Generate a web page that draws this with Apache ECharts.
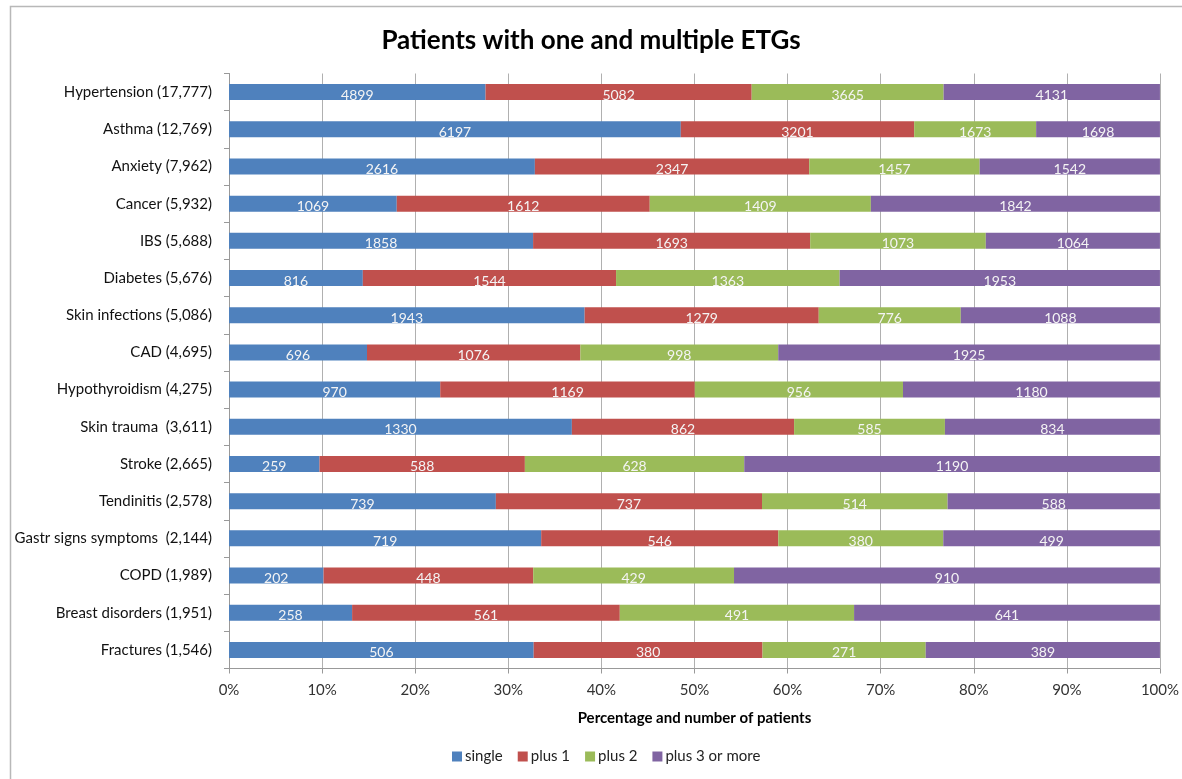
<!DOCTYPE html>
<html>
<head>
<meta charset="utf-8">
<script src="https://cdn.jsdelivr.net/npm/echarts@6/dist/echarts.min.js"></script>
<style>
html,body{margin:0;padding:0;background:#fff;}
#chart{width:1182px;height:779px;}
</style>
</head>
<body>
<div id="chart"></div>
<script>
const categories = [
  "Hypertension (17,777)", "Asthma (12,769)", "Anxiety (7,962)", "Cancer (5,932)",
  "IBS (5,688)", "Diabetes (5,676)", "Skin infections (5,086)", "CAD (4,695)",
  "Hypothyroidism (4,275)", "Skin trauma  (3,611)", "Stroke (2,665)", "Tendinitis (2,578)",
  "Gastr signs symptoms  (2,144)", "COPD (1,989)", "Breast disorders (1,951)", "Fractures (1,546)"
];
const single = [4899, 6197, 2616, 1069, 1858, 816, 1943, 696, 970, 1330, 259, 739, 719, 202, 258, 506];
const plus1  = [5082, 3201, 2347, 1612, 1693, 1544, 1279, 1076, 1169, 862, 588, 737, 546, 448, 561, 380];
const plus2  = [3665, 1673, 1457, 1409, 1073, 1363, 776, 998, 956, 585, 628, 514, 380, 429, 491, 271];
const plus3  = [4131, 1698, 1542, 1842, 1064, 1953, 1088, 1925, 1180, 834, 1190, 588, 499, 910, 641, 389];
const seriesNames = ["single", "plus 1", "plus 2", "plus 3 or more"];
const xTickLabels = ["0%","10%","20%","30%","40%","50%","60%","70%","80%","90%","100%"];
const colors = ["#4F81BD", "#C0504D", "#9BBB59", "#8064A2"];

const raw = [single, plus1, plus2, plus3];
const totals = categories.map((_, i) => raw.reduce((s, arr) => s + arr[i], 0));

const FONT = "Lato, 'Open Sans', sans-serif";

const chart = echarts.init(document.getElementById('chart'));
chart.setOption({
  animation: false,
  color: colors,
  textStyle: { fontFamily: FONT },
  title: {
    text: "Patients with one and multiple ETGs",
    left: 'center',
    top: 23,
    textStyle: { fontFamily: FONT, fontSize: 26, fontWeight: 'bold', color: '#000' }
  },
  legend: {
    bottom: 10,
    left: 447,
    itemWidth: 10,
    itemHeight: 10,
    itemGap: 15,
    icon: 'rect',
    textStyle: { fontFamily: FONT, fontSize: 15, color: '#222', padding: [0,0,0,-2] },
    data: seriesNames
  },
  graphic: [{
    type: 'rect',
    shape: { x: 10.5, y: 6.5, width: 1200, height: 800 },
    style: { fill: 'none', stroke: '#b8b8b8', lineWidth: 1.5 },
    silent: true
  }],
  grid: { left: 229, right: 21, top: 73.5, bottom: 110.5, containLabel: false },
  xAxis: {
    type: 'value',
    min: 0, max: 100, interval: 10,
    name: "Percentage and number of patients",
    nameLocation: 'middle',
    nameGap: 42,
    nameTextStyle: { fontFamily: FONT, fontSize: 15, fontWeight: 'bold', color: '#000' },
    axisLine: { show: true, lineStyle: { color: '#999', width: 1 } },
    axisTick: { show: true, length: 5, lineStyle: { color: '#999' } },
    axisLabel: {
      margin: 14,
      fontFamily: FONT, fontSize: 15, color: '#333',
      formatter: (v) => xTickLabels[Math.round(v / 10)]
    },
    splitLine: { show: true, lineStyle: { color: '#b0b0b0', width: 1 } }
  },
  yAxis: {
    type: 'category',
    inverse: true,
    data: categories,
    axisLine: { show: true, lineStyle: { color: '#999' } },
    axisTick: { show: true, length: 5, inside: false, lineStyle: { color: '#999' } },
    axisLabel: { margin: 17, fontFamily: FONT, fontSize: 15, color: '#111' }
  },
  series: raw.map((arr, si) => ({
    name: seriesNames[si],
    type: 'bar',
    stack: 'total',
    barWidth: 16,
    itemStyle: { color: colors[si] },
    label: {
      show: true,
      position: 'inside',
      offset: [0, 3],
      color: '#f4f4f4',
      fontFamily: FONT,
      fontSize: 14,
      formatter: (p) => String(arr[p.dataIndex])
    },
    data: arr.map((v, i) => v / totals[i] * 100)
  }))
});
</script>
</body>
</html>
